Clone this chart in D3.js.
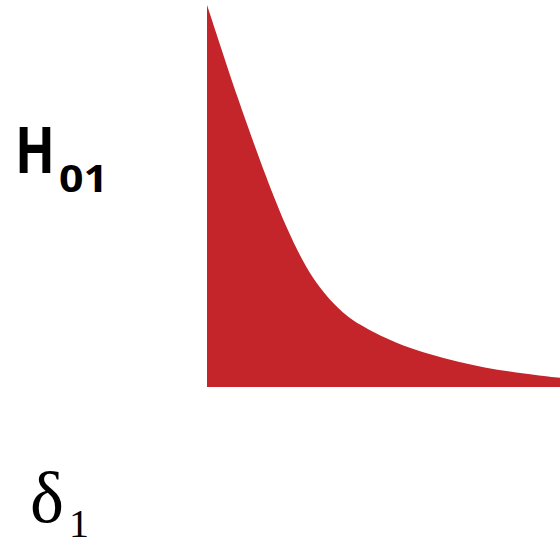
<!DOCTYPE html>
<html>
<head>
<meta charset="utf-8">
<script src="https://cdn.jsdelivr.net/npm/d3@7"></script>
<style>
  html, body { margin: 0; padding: 0; background: #fff; }
  svg { display: block; }
</style>
</head>
<body>
<svg id="chart" width="560" height="547"></svg>
<script>
// Decaying density curve: position along the axis and height (0..1)
const xPos = [0, 0.088, 0.170, 0.227, 0.297, 0.382, 0.433, 0.547, 0.717, 0.858, 1.0];
const density = [1.0, 0.751, 0.542, 0.411, 0.280, 0.194, 0.162, 0.107, 0.063, 0.039, 0.024];

const svg = d3.select("#chart");

const x = d3.scaleLinear().domain([0, 1]).range([207, 560]);
const y = d3.scaleLinear().domain([0, 1]).range([387, 5]);

const pts = xPos.map((d, i) => ({ x: d, v: density[i] }));

const area = d3.area()
  .x(d => x(d.x))
  .y0(y(0))
  .y1(d => y(d.v))
  .curve(d3.curveBasis);

svg.append("path")
  .datum(pts)
  .attr("d", area)
  .attr("fill", "#c4252b");

// Hypothesis label H with subscript 01
svg.append("text")
  .attr("x", 15).attr("y", 173)
  .attr("font-family", "Open Sans, sans-serif")
  .attr("font-weight", "bold")
  .attr("font-size", 64)
  .attr("textLength", 40)
  .attr("lengthAdjust", "spacingAndGlyphs")
  .attr("fill", "#000")
  .text("H");
svg.append("text")
  .attr("x", 59).attr("y", 192)
  .attr("font-family", "Open Sans, sans-serif")
  .attr("font-weight", "bold")
  .attr("font-size", 37)
  .attr("textLength", 49)
  .attr("lengthAdjust", "spacingAndGlyphs")
  .attr("fill", "#000")
  .text("01");

// Parameter label δ with subscript 1
svg.append("text")
  .attr("x", 30).attr("y", 522)
  .attr("font-family", "Liberation Serif, serif")
  .attr("font-size", 72)
  .attr("fill", "#000")
  .text("δ");
svg.append("text")
  .attr("x", 69).attr("y", 537)
  .attr("font-family", "Liberation Serif, serif")
  .attr("font-size", 40)
  .attr("fill", "#000")
  .text("1");
</script>
</body>
</html>
